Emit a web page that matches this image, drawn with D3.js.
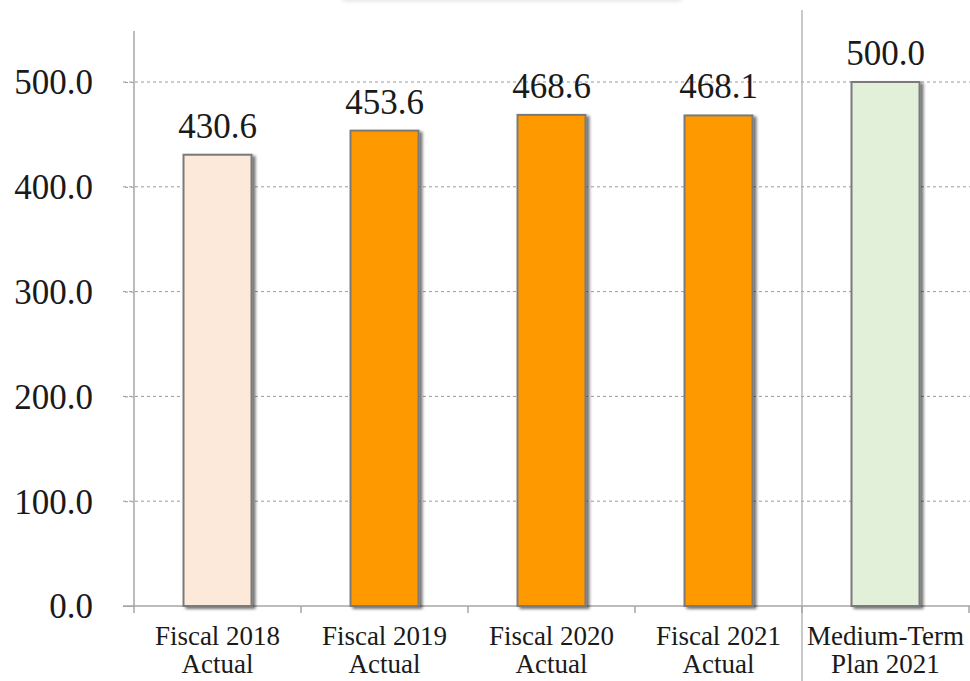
<!DOCTYPE html>
<html>
<head>
<meta charset="utf-8">
<script src="https://cdn.jsdelivr.net/npm/d3@7/dist/d3.min.js"></script>
<style>
  html, body { margin: 0; padding: 0; background: #fff; }
  svg { display: block; }
</style>
</head>
<body>
<svg id="chart" width="970" height="681"></svg>
<script>
// Categories (two-line labels) and values
const categoryLine1 = ["Fiscal 2018", "Fiscal 2019", "Fiscal 2020", "Fiscal 2021", "Medium-Term"];
const categoryLine2 = ["Actual", "Actual", "Actual", "Actual", "Plan 2021"];
const values = [430.6, 453.6, 468.6, 468.1, 500.0];
const barColors = ["#fde9d9", "#ff9900", "#ff9900", "#ff9900", "#e2efd9"];
const yTicks = [0, 100, 200, 300, 400, 500];

const SERIF = "'Liberation Serif', 'Times New Roman', serif";
const svg = d3.select("#chart");
const W = 970, H = 681;
const chartBottom = 606;

const defs = svg.append("defs");
const shadow = defs.append("filter").attr("id", "barShadow")
  .attr("x", "-20%").attr("y", "-20%").attr("width", "150%").attr("height", "150%");
shadow.append("feGaussianBlur").attr("in", "SourceAlpha").attr("stdDeviation", 1.8).attr("result", "b");
shadow.append("feOffset").attr("in", "b").attr("dx", 3).attr("dy", 2).attr("result", "o");
shadow.append("feComponentTransfer").attr("in", "o").attr("result", "s")
  .append("feFuncA").attr("type", "linear").attr("slope", 0.55);
const m = shadow.append("feMerge");
m.append("feMergeNode").attr("in", "s");
m.append("feMergeNode").attr("in", "SourceGraphic");

const boxShadow = defs.append("filter").attr("id", "boxShadow")
  .attr("x", "-10%").attr("y", "-50%").attr("width", "120%").attr("height", "200%");
boxShadow.append("feDropShadow").attr("dx", 0).attr("dy", 1).attr("stdDeviation", 2)
  .attr("flood-color", "#000").attr("flood-opacity", 0.12);

// Title box edge peeking in at the top
svg.append("rect")
  .attr("x", 342).attr("y", -40).attr("width", 340).attr("height", 40)
  .attr("rx", 4).attr("fill", "#fff").attr("filter", "url(#boxShadow)");

const x = d3.scaleBand()
  .domain(d3.range(values.length))
  .range([134, 969])
  .paddingInner(0).paddingOuter(0);

const y = d3.scaleLinear()
  .domain([0, 500])
  .range([chartBottom, 82]);

// Dashed gridlines
svg.append("g")
  .selectAll("line")
  .data(yTicks.filter(d => d > 0))
  .join("line")
  .attr("x1", 123).attr("x2", W)
  .attr("y1", d => y(d)).attr("y2", d => y(d))
  .attr("stroke", "#9a9a9a").attr("stroke-width", 1)
  .attr("stroke-dasharray", "3,3");

// Y axis
const yAxis = d3.axisLeft(y).tickValues(yTicks).tickFormat(d3.format(".1f")).tickSize(11).tickPadding(30);
const gy = svg.append("g").attr("transform", "translate(134,0)").call(yAxis);
gy.select(".domain").remove();
gy.selectAll(".tick line").attr("stroke", "#a6a6a6");
gy.selectAll(".tick line").filter(d => d > 0).attr("stroke-dasharray", "3,3").attr("stroke", "#9a9a9a");
gy.selectAll(".tick text")
  .attr("font-size", 35).attr("fill", "#1a1a1a")
  .attr("font-family", SERIF)
  .attr("dy", "0.34em");
svg.append("line")
  .attr("x1", 134).attr("x2", 134).attr("y1", 31).attr("y2", chartBottom)
  .attr("stroke", "#a6a6a6").attr("stroke-width", 1.5);

// X axis baseline with category ticks
svg.append("line")
  .attr("x1", 123).attr("x2", W).attr("y1", chartBottom).attr("y2", chartBottom)
  .attr("stroke", "#a6a6a6").attr("stroke-width", 1.5);
svg.append("g")
  .selectAll("line")
  .data(d3.range(values.length + 1))
  .join("line")
  .attr("x1", i => 134 + i * x.bandwidth()).attr("x2", i => 134 + i * x.bandwidth())
  .attr("y1", chartBottom).attr("y2", chartBottom + 7)
  .attr("stroke", "#a6a6a6").attr("stroke-width", 1.5);

// Separator between actuals and plan
svg.append("line")
  .attr("x1", x(4)).attr("x2", x(4)).attr("y1", 10).attr("y2", H)
  .attr("stroke", "#a6a6a6").attr("stroke-width", 1.2);

// Bars
const barW = 68;
svg.append("g")
  .selectAll("rect")
  .data(values)
  .join("rect")
  .attr("x", (d, i) => x(i) + x.bandwidth() / 2 - barW / 2)
  .attr("y", d => y(d))
  .attr("width", barW)
  .attr("height", d => chartBottom - y(d))
  .attr("fill", (d, i) => barColors[i])
  .attr("stroke", "#7a7a7a")
  .attr("stroke-width", 2)
  .attr("filter", "url(#barShadow)");

// Value labels
svg.append("g")
  .selectAll("text")
  .data(values)
  .join("text")
  .attr("x", (d, i) => x(i) + x.bandwidth() / 2)
  .attr("y", d => y(d) - 17)
  .attr("text-anchor", "middle")
  .attr("font-family", SERIF)
  .attr("font-size", 35)
  .attr("fill", "#1a1a1a")
  .text(d => d.toFixed(1));

// Category labels
const cat = svg.append("g").selectAll("text")
  .data(values)
  .join("text")
  .attr("text-anchor", "middle")
  .attr("font-family", SERIF)
  .attr("font-size", 27)
  .attr("fill", "#1a1a1a");
cat.append("tspan")
  .attr("x", (d, i) => x(i) + x.bandwidth() / 2)
  .attr("y", 645)
  .text((d, i) => categoryLine1[i]);
cat.append("tspan")
  .attr("x", (d, i) => x(i) + x.bandwidth() / 2)
  .attr("y", 673)
  .text((d, i) => categoryLine2[i]);
</script>
</body>
</html>
